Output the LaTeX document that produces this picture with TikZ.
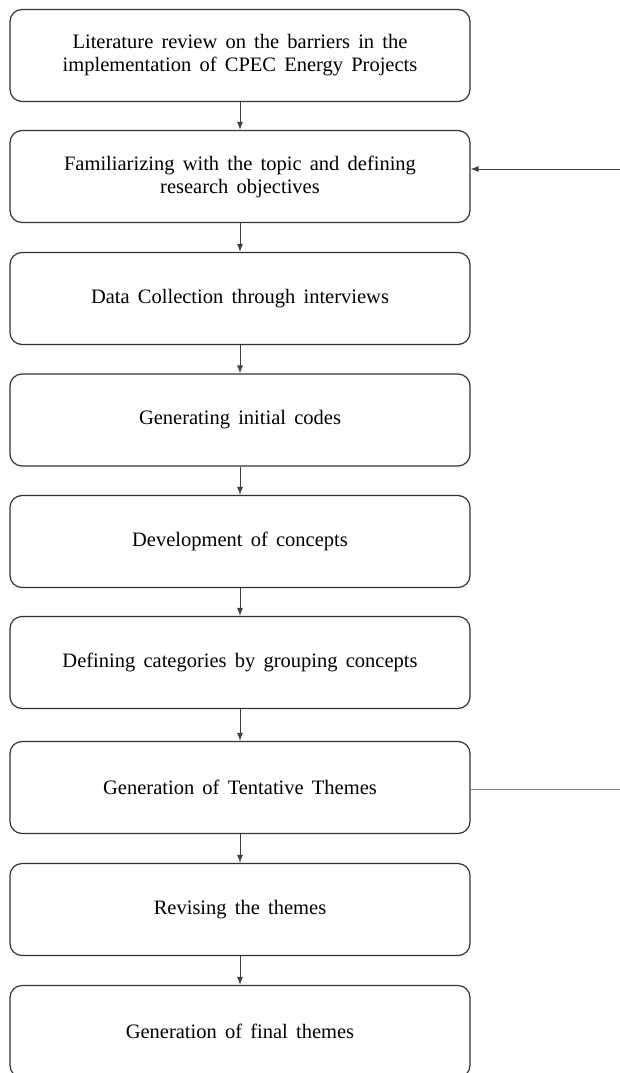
\documentclass[tikz,border=0pt]{standalone}
\usepackage{fontspec}
\setmainfont[WordSpace=1.6]{Liberation Serif}
\usepackage{tikz}
\usetikzlibrary{arrows.meta}

\begin{document}
\begin{tikzpicture}[x=1pt, y=-1pt, auto,
  stage/.style ={rectangle, rounded corners=12pt, draw=black!80, line width=1.2pt,
    minimum width=460pt, minimum height=92pt, align=center,
    font=\fontsize{20.5}{23}\selectfont},
  link/.style ={draw=black!75, line width=0.9pt, ->, >={Latex[length=8pt,width=6pt]}}]
 \useasboundingbox (0,0) rectangle (620,1073);
 \node[stage] (A) at (240,55.5)  {Literature review on the barriers in the\\implementation of CPEC Energy Projects};
 \node[stage] (B) at (240,176.5) {Familiarizing with the topic and defining\\research objectives};
 \node[stage] (C) at (240,298.5) {Data Collection through interviews};
 \node[stage] (D) at (240,420)   {Generating initial codes};
 \node[stage] (E) at (240,541.5) {Development of concepts};
 \node[stage] (F) at (240,662.5) {Defining categories by grouping concepts};
 \node[stage] (G) at (240,787.5) {Generation of Tentative Themes};
 \node[stage] (H) at (240,909.5) {Revising the themes};
 \node[stage] (I) at (240,1031.5) {Generation of final themes};

 \coordinate (R1) at (620,169);
 \coordinate (R2) at (620,789);

 \draw[link] (A) to (B);
 \draw[link] (B) to (C);
 \draw[link] (C) to (D);
 \draw[link] (D) to (E);
 \draw[link] (E) to (F);
 \draw[link] (F) to (G);
 \draw[link] (G) to (H);
 \draw[link] (H) to (I);
 \draw[link] (R1) to (B.east |- R1);
 \draw[draw=black!50, line width=0.9pt] (G.east |- R2) to (R2);
\end{tikzpicture}
\end{document}
